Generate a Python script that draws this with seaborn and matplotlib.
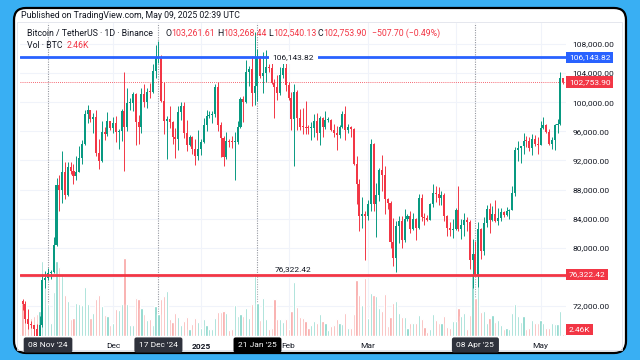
import numpy as np
import pandas as pd
import matplotlib
matplotlib.use("Agg")
import matplotlib.pyplot as plt
import matplotlib.transforms as mtrans
from matplotlib.patches import FancyBboxPatch, Rectangle
import seaborn as sns

# daily BTC/USDT candles, prices in thousands of USD
dates = pd.date_range("2024-10-30", "2025-05-09", freq="D")

opens = [
    72.70, 72.33,
    70.21, 69.48, 69.37, 68.78, 67.81, 69.36, 75.64, 75.90, 76.54, 76.68, 80.37, 88.65, 87.95, 90.38, 87.27,
    91.06, 90.56, 89.85, 90.46, 92.31, 94.29, 98.35, 98.89, 97.67, 97.90, 93.01, 91.96, 95.86, 95.64, 97.46,
    96.41, 97.19, 95.84, 96.00, 98.77, 96.59, 99.92, 99.92, 101.17, 97.32, 96.65, 101.17, 100.04, 101.46, 101.37,
    104.30, 106.06, 106.13, 100.20, 97.46, 97.76, 97.22, 95.19, 94.90, 98.70, 99.43, 95.80, 94.17, 95.16, 93.53, 92.64,
    93.58, 94.59, 96.89, 98.11, 98.24, 98.31, 102.08, 96.92, 95.04, 92.48, 94.70, 94.57, 94.51, 94.52, 96.53,
    100.50, 99.99, 104.08, 104.56, 101.33, 102.26, 106.14, 103.65, 103.96, 104.82, 104.71, 102.62, 102.08, 101.33, 103.73, 104.73,
    102.43, 100.64, 97.69, 101.40, 97.87, 96.62, 96.56, 96.48, 96.46, 96.48, 97.43, 95.78, 97.87, 96.62,
    97.51, 97.57, 96.12, 95.77, 95.54, 96.62, 98.33, 96.13, 96.56, 96.28, 91.55, 88.74, 84.35, 84.70,
    84.37, 86.04, 94.27, 86.07, 87.22, 90.62, 89.96, 86.74, 86.15, 80.73, 78.60, 82.93, 83.68, 81.07, 83.97,
    84.34, 82.58, 84.01, 82.72, 86.85, 84.17, 84.04, 83.83, 86.08, 87.50, 87.42, 86.90, 87.23, 84.35, 82.65, 82.39,
    82.55, 85.16, 82.52, 83.10, 83.84, 83.50, 78.37, 79.16, 76.32, 82.62, 79.60, 83.42, 85.28, 83.76, 84.59,
    83.64, 84.03, 84.94, 84.45, 85.06, 85.17, 87.52, 93.44, 93.70, 93.95, 94.72, 94.65, 93.75, 94.98, 94.28,
    94.17, 96.49, 96.91, 95.89, 94.32, 94.75, 96.83, 97.03, 103.26,
]
highs = [
    72.96, 72.70,
    71.63, 70.00, 69.40, 69.48, 70.58, 76.40, 76.85, 77.20, 76.95, 81.50, 89.53, 89.94, 93.26, 91.76, 91.85,
    91.78, 91.45, 92.59, 94.00, 94.83, 98.97, 99.59, 98.98, 98.58, 98.87, 94.97, 97.36, 96.65, 98.69, 97.46,
    97.90, 98.15, 96.30, 99.00, 104.09, 101.90, 100.55, 101.40, 101.20, 98.27, 101.89, 102.54, 101.90, 102.65, 105.25,
    107.79, 108.35, 106.50, 102.80, 98.15, 99.54, 97.40, 96.42, 99.49, 99.96, 99.96, 97.54, 95.52, 95.30, 94.90, 96.15,
    95.00, 97.84, 98.98, 98.77, 98.82, 102.48, 102.72, 97.26, 95.35, 95.84, 94.98, 95.40, 95.90, 97.37, 100.68,
    100.87, 105.86, 104.99, 106.33, 109.59, 107.24, 106.39, 106.85, 107.12, 105.29, 105.50, 103.23, 103.80, 104.80, 106.46, 106.08,
    102.78, 101.46, 102.50, 101.74, 99.00, 99.20, 100.14, 96.88, 97.32, 98.35, 98.50, 98.12, 98.00, 98.83,
    97.97, 97.73, 97.05, 96.73, 96.90, 98.80, 99.50, 96.94, 96.67, 96.50, 92.54, 89.41, 87.00, 85.12,
    86.56, 95.00, 94.42, 88.91, 90.99, 92.81, 91.28, 86.88, 86.47, 84.12, 83.62, 84.36, 84.30, 85.30, 84.67,
    85.05, 84.76, 84.05, 87.45, 87.44, 84.78, 84.55, 86.10, 88.75, 88.54, 88.29, 87.79, 87.52, 84.57, 83.53, 83.94,
    85.49, 88.50, 83.93, 84.72, 84.23, 83.75, 81.24, 80.87, 83.59, 82.70, 84.28, 85.90, 86.10, 85.80, 86.50,
    85.50, 85.47, 85.10, 85.60, 85.30, 88.46, 93.82, 94.70, 94.00, 95.76, 95.32, 95.20, 95.60, 95.46, 95.20,
    97.44, 97.90, 96.96, 96.32, 95.20, 96.95, 97.73, 104.15, 103.27,
]
lows = [
    71.43, 69.68,
    68.82, 69.00, 67.46, 66.80, 67.45, 69.06, 74.42, 75.56, 75.74, 76.49, 80.22, 85.07, 86.13, 86.67, 87.12,
    90.09, 88.72, 89.38, 90.37, 91.50, 94.10, 97.17, 97.23, 95.73, 92.60, 90.79, 91.78, 94.80, 95.38, 96.15,
    95.70, 94.50, 93.58, 94.66, 90.50, 95.98, 98.95, 98.77, 94.15, 94.26, 95.72, 99.31, 99.20, 100.61, 101.23,
    103.34, 105.32, 100.00, 95.67, 92.13, 96.40, 94.20, 92.40, 93.40, 97.60, 95.14, 93.30, 94.00, 92.90, 91.32, 92.00,
    92.74, 94.41, 96.02, 97.78, 97.20, 97.92, 96.10, 92.50, 91.20, 92.20, 93.83, 93.71, 89.26, 94.32, 96.48,
    97.25, 99.95, 102.28, 99.54, 99.55, 100.12, 103.34, 101.22, 102.75, 104.11, 102.50, 97.78, 100.27, 101.00, 103.32, 101.54,
    100.28, 96.15, 91.23, 96.15, 96.20, 95.65, 95.62, 95.69, 94.75, 95.26, 94.85, 94.09, 95.22, 96.25,
    97.25, 96.05, 95.20, 93.39, 95.02, 96.44, 94.83, 95.77, 95.25, 91.37, 86.05, 82.26, 82.78, 78.26,
    83.83, 85.05, 85.08, 81.53, 86.38, 87.85, 84.67, 85.26, 80.00, 77.46, 76.61, 80.60, 79.94, 80.80, 83.63,
    82.02, 82.46, 81.13, 82.59, 83.65, 83.17, 83.65, 83.78, 85.54, 86.31, 85.85, 85.86, 83.65, 81.65, 81.57, 81.28,
    82.43, 82.32, 81.16, 81.66, 82.37, 77.15, 74.50, 76.24, 74.62, 78.46, 78.94, 82.81, 82.00, 83.68, 83.60,
    83.10, 83.74, 84.25, 84.33, 83.95, 85.14, 87.08, 91.93, 91.66, 92.86, 93.87, 93.28, 92.80, 93.98, 92.91,
    94.12, 96.35, 95.70, 94.13, 93.51, 93.37, 95.80, 96.90, 102.54,
]
closes = [
    72.33, 70.21,
    69.48, 69.37, 68.78, 67.81, 69.36, 75.64, 75.90, 76.54, 76.68, 80.37, 88.65, 87.95, 90.38, 87.27, 91.06,
    90.56, 89.85, 90.46, 92.31, 94.29, 98.35, 98.89, 97.67, 97.90, 93.01, 91.96, 95.86, 95.64, 97.46, 96.41,
    97.19, 95.84, 96.00, 98.77, 96.59, 99.92, 99.92, 101.17, 97.32, 96.65, 101.17, 100.04, 101.46, 101.37, 104.30,
    106.06, 106.13, 100.20, 97.46, 97.76, 97.22, 95.19, 94.90, 98.70, 99.43, 95.80, 94.17, 95.16, 93.53, 92.64, 93.58,
    94.59, 96.89, 98.11, 98.24, 98.31, 102.08, 96.92, 95.04, 92.48, 94.70, 94.57, 94.51, 94.52, 96.53, 100.50,
    99.99, 104.08, 104.56, 101.33, 102.26, 106.14, 103.65, 103.96, 104.82, 104.71, 102.62, 102.08, 101.33, 103.73, 104.73, 102.43,
    100.64, 97.69, 101.40, 97.87, 96.62, 96.56, 96.48, 96.46, 96.48, 97.43, 95.78, 97.87, 96.62, 97.51,
    97.57, 96.12, 95.77, 95.54, 96.62, 98.33, 96.13, 96.56, 96.28, 91.55, 88.74, 84.35, 84.70, 84.37,
    86.04, 94.27, 86.07, 87.22, 90.62, 89.96, 86.74, 86.15, 80.73, 78.60, 82.93, 83.68, 81.07, 83.97, 84.34,
    82.58, 84.01, 82.72, 86.85, 84.17, 84.04, 83.83, 86.08, 87.50, 87.42, 86.90, 87.23, 84.35, 82.65, 82.39, 82.55,
    85.16, 82.52, 83.10, 83.84, 83.50, 78.37, 79.16, 76.32, 82.62, 79.60, 83.42, 85.28, 83.76, 84.59, 83.64,
    84.03, 84.94, 84.45, 85.06, 85.17, 87.52, 93.44, 93.70, 93.95, 94.72, 94.65, 93.75, 94.98, 94.28, 94.17,
    96.49, 96.91, 95.89, 94.32, 94.75, 96.83, 97.03, 103.26, 102.75,
]
# volume in thousands of BTC
volumes = [
    40, 38,
    30, 22, 24, 26, 30, 90, 76, 38, 16, 53, 90, 83, 74, 49, 42, 20, 22, 40, 38, 37, 59, 38, 22, 28, 44, 49, 36, 25, 24, 13,
    16, 32, 31, 38, 94, 38, 13, 13, 46, 44, 34, 26, 19, 20, 13, 36, 26, 44, 48, 54, 20, 17, 28, 23, 13, 18, 23, 8, 14, 22, 17,
    10, 20, 13, 8, 8, 22, 29, 29, 30, 28, 7, 8, 37, 24, 26, 24, 34, 22, 38, 76, 40, 19, 46, 20, 8, 10, 44, 20, 20, 17, 20,
    8, 30, 65, 35, 23, 22, 18, 10, 13, 18, 16, 26, 18, 16, 7, 12, 13, 20, 16, 14, 28, 10, 10, 26, 67, 49, 37, 70,
    22, 52, 49, 48, 34, 30, 50, 12, 23, 40, 42, 28, 23, 23, 10, 16, 16, 16, 25, 20, 11, 5, 8, 26, 19, 16, 16, 24, 11, 10, 18,
    18, 34, 24, 28, 8, 25, 74, 46, 66, 29, 30, 16, 22, 25, 17, 19, 13, 8, 10, 8, 28, 38, 24, 17, 24, 8, 10, 19, 16, 16,
    19, 16, 10, 10, 16, 14, 14, 30, 2.46,
]

# month grid lines; the April label sits under the 08 Apr badge, so only its grid line shows
month_grid = ["2024-12-01", "2025-01-01", "2025-02-01", "2025-03-01", "2025-04-01", "2025-05-01"]
month_ticks = ["2024-12-01", "2025-01-01", "2025-02-01", "2025-03-01", "2025-05-01"]
month_labels = ["Dec", "2025", "Feb", "Mar", "May"]
marked_days = ["2024-11-08", "2024-12-17", "2025-01-21", "2025-04-08"]
marked_labels = ["08 Nov '24", "17 Dec '24", "21 Jan '25", "08 Apr '25"]
price_ticks = [72, 80, 84, 88, 92, 96, 100, 104, 108]
resistance = 106.14382
support = 76.32242
last_price = 102.7539

GREEN, RED, BLUE, TXT = "#089981", "#f23645", "#2962ff", "#131722"

df = pd.DataFrame({"date": dates, "o": opens, "h": highs, "l": lows, "c": closes, "vol": volumes})
df["i"] = np.arange(len(df))
df["dir"] = np.where(df["c"] >= df["o"], "up", "down")
pos = {d: i for i, d in enumerate(df["date"])}

sns.set_theme(style="white")
plt.rcParams["font.family"] = ["Roboto", "DejaVu Sans"]

W, H = 640, 360
fig = plt.figure(figsize=(6.4, 3.6), dpi=100)
fig.patch.set_facecolor("#39aff3")


def fx(x):
    return x / W


def fy(y):
    return 1 - y / H


# white rounded panel with black outline
fig.add_artist(FancyBboxPatch((0.14, 0.07), 6.12, 3.45, boxstyle="round,pad=0,rounding_size=0.12",
                              transform=fig.dpi_scale_trans, fc="white", ec="black", lw=1.6))
fig.add_artist(Rectangle((0.17, 0.10), 6.05, 3.28, transform=fig.dpi_scale_trans,
                         fc="none", ec="#e0e3eb", lw=0.6))

rect = [fx(20), fy(336), (566 - 20) / W, (336 - 23) / H]
ax_v = fig.add_axes(rect)
ax = fig.add_axes(rect)
ax_v.set_zorder(1)
ax.set_zorder(2)
ax.set_facecolor("none")

xlim = (-0.9, 192.0)
ylim = (67.88, 110.88)
ax.set_xlim(*xlim)
ax.set_ylim(*ylim)

# grid and marker lines behind the volume
for v in range(68, 112, 4):
    ax_v.plot(xlim, [v, v], color="#f0f3fa", lw=0.8, transform=ax.transData, zorder=0)
for d in month_grid:
    ax_v.axvline(pos[pd.Timestamp(d)], color="#f0f3fa", lw=0.8, zorder=0)
for d in marked_days:
    ax_v.axvline(pos[pd.Timestamp(d)], color="#9598a1", lw=0.8, ls=(0, (1, 1.2)), zorder=0.5)

sns.barplot(data=df, x="i", y="vol", hue="dir", palette={"up": "#7fd3c7", "down": "#f8a2a1"},
            native_scale=True, dodge=False, errorbar=None, legend=False, width=0.78,
            saturation=1, ax=ax_v)
ax_v.set_xlim(*xlim)
ax_v.set_ylim(0, 375.6)
ax_v.axis("off")

# candles
colors = np.where(df["dir"] == "up", GREEN, RED)
ax.vlines(df["i"], df["l"], df["h"], colors=colors, lw=0.7, zorder=3)
body_lo = np.minimum(df["o"], df["c"])
body_h = np.maximum((df["c"] - df["o"]).abs(), 0.12)
ax.bar(df["i"], body_h, bottom=body_lo, width=0.72, color=colors, lw=0, zorder=3)

# horizontal levels
ax.axhline(last_price, color=RED, lw=0.6, ls=(0, (1, 1.5)), zorder=2)
ax.axhline(resistance, color=BLUE, lw=2, zorder=4)
ax.axhline(support, color=RED, lw=2, zorder=4)
ax.text(95.6, resistance, f"{resistance * 1000:,.2f}", ha="center", va="center", fontsize=6,
        color=TXT, zorder=5, bbox=dict(boxstyle="square,pad=0.45", fc="white", ec="none"))
ax.text(95.6, support + 0.3, f"{support * 1000:,.2f}", ha="center", va="bottom", fontsize=6,
        color=TXT, zorder=5)

for s in ax.spines.values():
    s.set_visible(False)
ax.grid(False)

ax.yaxis.tick_right()
ax.set_yticks(price_ticks)
ax.set_yticklabels([f"{v * 1000:,.2f}" for v in price_ticks])
ax.tick_params(axis="y", length=0, pad=4.5, labelsize=6, labelcolor=TXT)

ax.set_xticks([pos[pd.Timestamp(d)] for d in month_ticks])
ax.set_xticklabels(month_labels)
ax.tick_params(axis="x", length=0, pad=5, labelsize=6, labelcolor=TXT)
ax.get_xticklabels()[1].set_fontweight("bold")

# price axis badges
tr_price = mtrans.blended_transform_factory(fig.transFigure, ax.transData)
for val, col in [(resistance, BLUE), (last_price, RED), (support, RED)]:
    ax.text(fx(569), val, f"{val * 1000:,.2f}", transform=tr_price, ha="left", va="center",
            fontsize=6, color="white", clip_on=False, zorder=10,
            bbox=dict(boxstyle="square,pad=0.32", fc=col, ec="none"))
fig.text(fx(569), fy(329.5), "2.46K", ha="left", va="center", fontsize=6, color="white",
         bbox=dict(boxstyle="square,pad=0.32", fc=RED, ec="none"))

# time axis badges
tr_time = mtrans.blended_transform_factory(ax.transData, fig.transFigure)
for d, lab in zip(marked_days, marked_labels):
    fc = "#000000" if lab.startswith("21") else "#2f323c"
    ax.text(pos[pd.Timestamp(d)], fy(345), lab, transform=tr_time, ha="center", va="center",
            fontsize=6, color="white", clip_on=False, zorder=10,
            bbox=dict(boxstyle="round,pad=0.55,rounding_size=0.25", fc=fc, ec="none"))

# header
fig.text(fx(21), fy(15), "Published on TradingView.com, May 09, 2025 02:39 UTC",
         fontsize=6.3, color=TXT, va="center")
renderer = fig.canvas.get_renderer()


def chain(parts, x, y):
    for s, col in parts:
        t = fig.text(fx(x), fy(y), s, fontsize=6.3, color=col, va="center", ha="left", zorder=20)
        x += t.get_window_extent(renderer).width


chain([("Bitcoin / TetherUS · 1D · Binance", TXT)], 27, 33.5)
chain([("O", TXT), ("103,261.61", RED)], 165, 33.5)
chain([("H", TXT), ("103,268.44", RED)], 217, 33.5)
chain([("L", TXT), ("102,540.13", RED)], 268, 33.5)
chain([("C", TXT), ("102,753.90", RED)], 318, 33.5)
chain([("−507.70 (−0.49%)", RED)], 372, 33.5)
chain([("Vol · BTC", TXT)], 27, 45)
chain([("2.46K", RED)], 67, 45)

fig.savefig("out.png", dpi=100, facecolor=fig.get_facecolor())
